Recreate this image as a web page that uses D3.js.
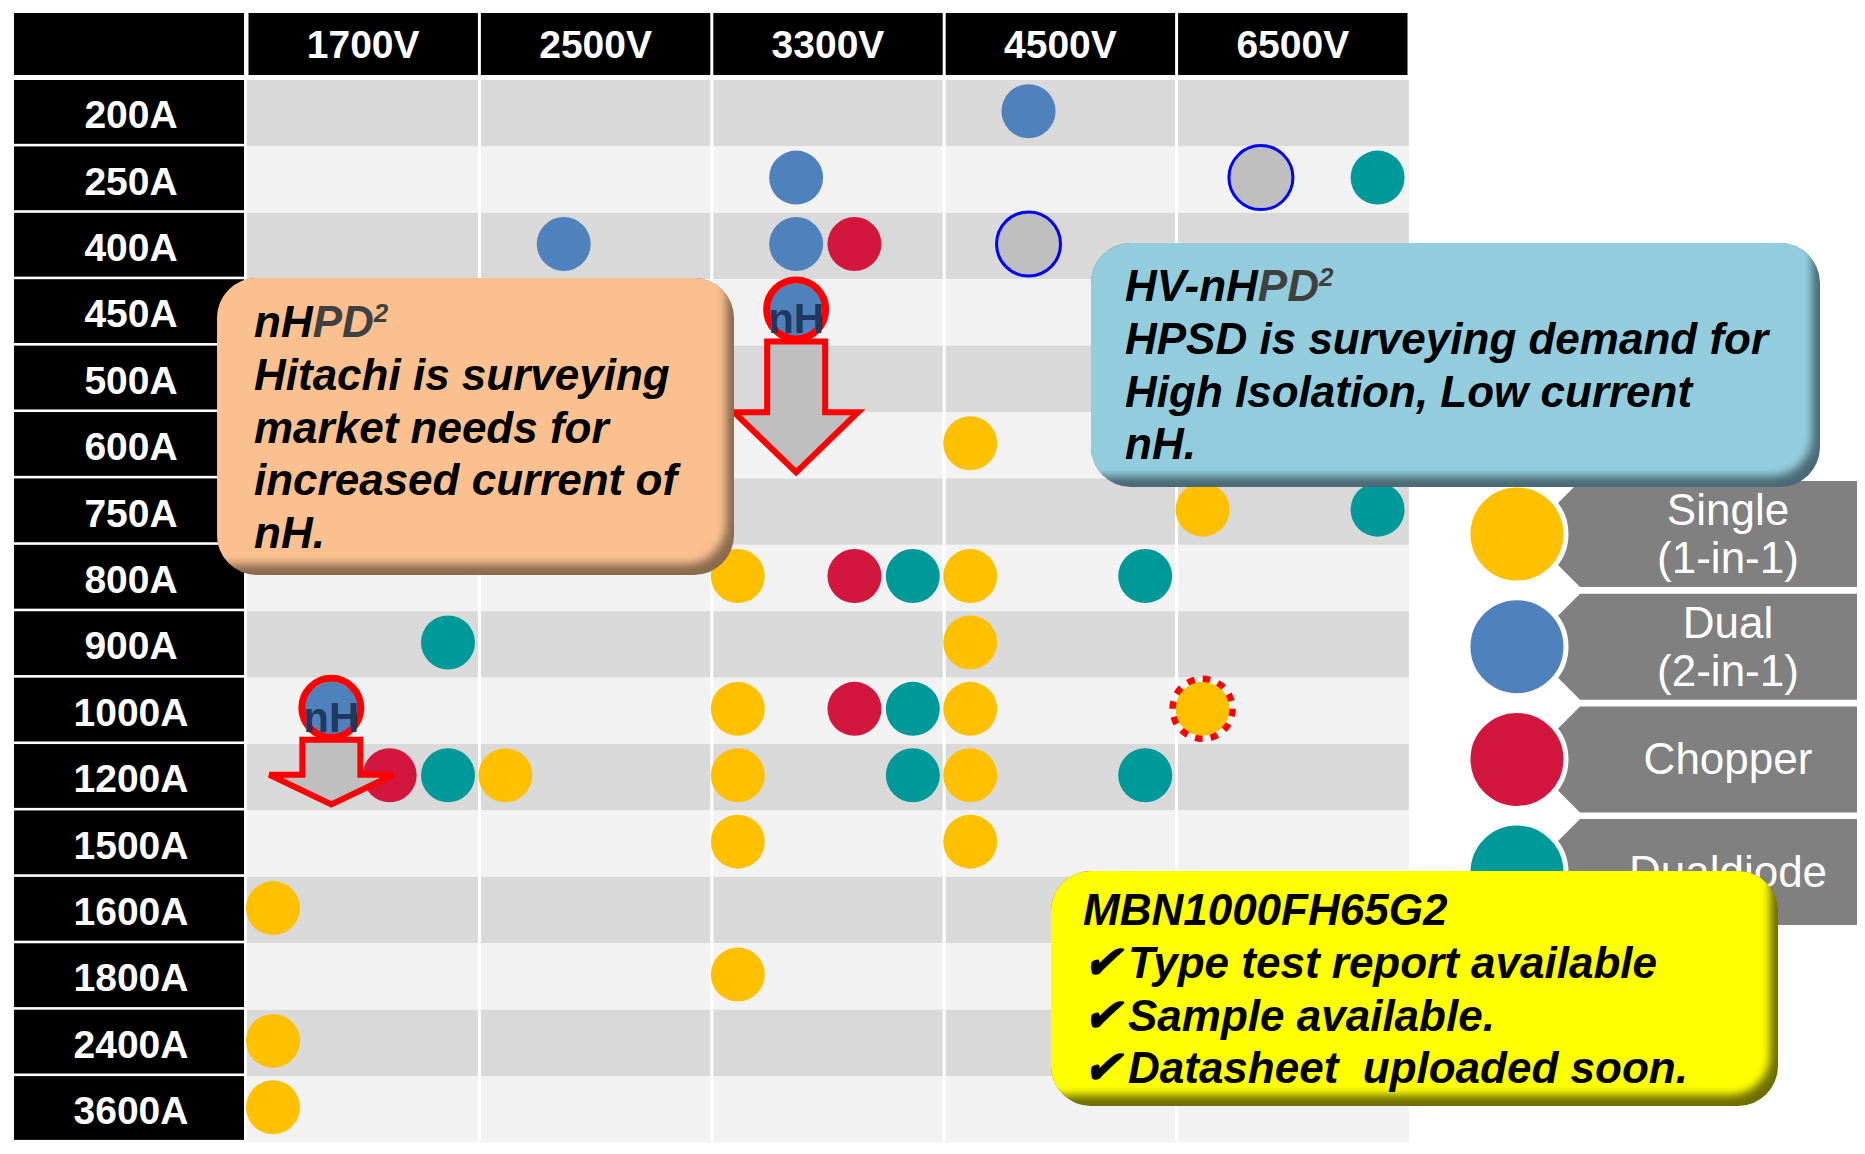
<!DOCTYPE html>
<html>
<head>
<meta charset="utf-8">
<script src="https://cdn.jsdelivr.net/npm/d3@7"></script>
<style>
html, body { margin: 0; padding: 0; background: #ffffff; }
svg { display: block; }
text { font-family: "Liberation Sans", Arial, Helvetica, sans-serif; }
</style>
</head>
<body>
<svg id="chart" width="1865" height="1154"></svg>
<script>
// ---------------- DATA ----------------
const voltages = ["1700V", "2500V", "3300V", "4500V", "6500V"];
const currents = ["200A", "250A", "400A", "450A", "500A", "600A", "750A", "800A",
                  "900A", "1000A", "1200A", "1500A", "1600A", "1800A", "2400A", "3600A"];
const types = ["single", "dual", "chopper", "dualdiode"];
const typeLabels = [["Single", "(1-in-1)"], ["Dual", "(2-in-1)"], ["Chopper"], ["Dualdiode"]];
const typeColors = ["#ffc000", "#4f81bd", "#d2163e", "#009999"];

// [voltage, current, type, status]  status: std | planned | nH | new
const products = [
  ["1700V", "900A", "dualdiode", "std"],
  ["1700V", "1000A", "dual", "nH"],
  ["1700V", "1200A", "chopper", "std"],
  ["1700V", "1200A", "dualdiode", "std"],
  ["1700V", "1600A", "single", "std"],
  ["1700V", "2400A", "single", "std"],
  ["1700V", "3600A", "single", "std"],
  ["2500V", "400A", "dual", "std"],
  ["2500V", "1200A", "single", "std"],
  ["3300V", "250A", "dual", "std"],
  ["3300V", "400A", "dual", "std"],
  ["3300V", "400A", "chopper", "std"],
  ["3300V", "450A", "dual", "nH"],
  ["3300V", "500A", "dual", "std"],
  ["3300V", "800A", "single", "std"],
  ["3300V", "800A", "chopper", "std"],
  ["3300V", "800A", "dualdiode", "std"],
  ["3300V", "1000A", "single", "std"],
  ["3300V", "1000A", "chopper", "std"],
  ["3300V", "1000A", "dualdiode", "std"],
  ["3300V", "1200A", "single", "std"],
  ["3300V", "1200A", "dualdiode", "std"],
  ["3300V", "1500A", "single", "std"],
  ["3300V", "1800A", "single", "std"],
  ["4500V", "200A", "dual", "std"],
  ["4500V", "400A", "dual", "planned"],
  ["4500V", "600A", "single", "std"],
  ["4500V", "800A", "single", "std"],
  ["4500V", "800A", "dualdiode", "std"],
  ["4500V", "900A", "single", "std"],
  ["4500V", "1000A", "single", "std"],
  ["4500V", "1200A", "single", "std"],
  ["4500V", "1200A", "dualdiode", "std"],
  ["4500V", "1500A", "single", "std"],
  ["6500V", "250A", "dual", "planned"],
  ["6500V", "250A", "dualdiode", "std"],
  ["6500V", "750A", "single", "std"],
  ["6500V", "750A", "dualdiode", "std"],
  ["6500V", "1000A", "single", "new"]
];

// development arrows: [voltage, type, from current, to current]
const arrows = [
  ["3300V", "dual", "450A", "600A"],
  ["1700V", "dual", "1000A", "1200A"]
];

const orangeTitle = ["nH", "PD", "2"];
const orangeLines = ["Hitachi is surveying", "market needs for", "increased current of", "nH."];
const blueTitle = ["HV-nH", "PD", "2"];
const blueLines = ["HPSD is surveying demand for", "High Isolation, Low current", "nH."];
const yellowLines = ["MBN1000FH65G2", "\u2714Type test report available", "\u2714Sample available.", "\u2714Datasheet  uploaded soon."];

// ---------------- LAYOUT ----------------
const svg = d3.select("#chart");
const defs = svg.append("defs");
defs.append("filter").attr("id", "soft")
  .attr("x", "-10%").attr("y", "-10%").attr("width", "120%").attr("height", "120%")
  .append("feGaussianBlur").attr("stdDeviation", 4);

const x = d3.scaleBand().domain(voltages).range([247, 1409]);
const y = d3.scaleBand().domain(currents).range([80, 1142.5]);
const sub = d3.scalePoint().domain(types).range([26, 201]);
const color = d3.scaleOrdinal().domain(types).range(typeColors);
const bw = x.bandwidth(), bh = y.bandwidth();
const px = (v, t) => x(v) + sub(t);
const py = c => y(c) + bh / 2;
const dy = -2; // dots sit slightly above row centre

svg.append("rect").attr("width", 1865).attr("height", 1154).attr("fill", "#ffffff");

// header
svg.append("rect").attr("x", 14).attr("y", 13).attr("width", 230).attr("height", 62).attr("fill", "#000");
const head = svg.append("g");
head.selectAll("rect").data(voltages).join("rect")
  .attr("x", d => x(d) + 1.5).attr("y", 13).attr("width", bw - 3).attr("height", 62).attr("fill", "#000");
head.selectAll("text").data(voltages).join("text")
  .attr("x", d => x(d) + bw / 2).attr("y", 58).attr("text-anchor", "middle")
  .attr("fill", "#fff").attr("font-weight", "bold").attr("font-size", 39).text(d => d);

// rows background
svg.append("g").selectAll("rect").data(currents).join("rect")
  .attr("x", x.range()[0]).attr("y", d => y(d)).attr("width", x.range()[1] - x.range()[0]).attr("height", bh)
  .attr("fill", (d, i) => i % 2 ? "#f2f2f2" : "#d9d9d9");
// column separators
svg.append("g").selectAll("rect").data(voltages.slice(1)).join("rect")
  .attr("x", d => x(d) - 1.5).attr("y", y.range()[0]).attr("width", 3).attr("height", y.range()[1] - y.range()[0])
  .attr("fill", "#fff");

// row labels
const rl = svg.append("g");
rl.selectAll("rect").data(currents).join("rect")
  .attr("x", 14).attr("y", d => y(d)).attr("width", 230).attr("height", bh - 2.6).attr("fill", "#000");
rl.selectAll("text").data(currents).join("text")
  .attr("x", 131).attr("y", d => py(d) + 15).attr("text-anchor", "middle")
  .attr("fill", "#fff").attr("font-weight", "bold").attr("font-size", 39).text(d => d);

// product dots
const prod = products.map(p => ({v: p[0], c: p[1], t: p[2], s: p[3]}));
const dots = svg.append("g");
dots.selectAll("circle.main").data(prod).join("circle").attr("class", "main")
  .attr("cx", d => px(d.v, d.t)).attr("cy", d => py(d.c) + dy)
  .attr("r", d => d.s === "planned" ? 32 : 27)
  .attr("fill", d => d.s === "planned" ? "#bfbfbf" : color(d.t))
  .attr("stroke", d => d.s === "planned" ? "#0000ff" : "none")
  .attr("stroke-width", d => d.s === "planned" ? 3 : 0);
dots.selectAll("circle.ring").data(prod.filter(d => d.s === "nH")).join("circle").attr("class", "ring")
  .attr("cx", d => px(d.v, d.t)).attr("cy", d => py(d.c) - 3).attr("r", 29.5)
  .attr("fill", "none").attr("stroke", "#ff0000").attr("stroke-width", 7);
dots.selectAll("circle.newring").data(prod.filter(d => d.s === "new")).join("circle").attr("class", "newring")
  .attr("cx", d => px(d.v, d.t)).attr("cy", d => py(d.c) + dy).attr("r", 30)
  .attr("fill", "none").attr("stroke", "#ff0000").attr("stroke-width", 6.5)
  .attr("stroke-dasharray", "7.5 8.2");

// arrows
const arrowPath = a => {
  const cx0 = px(a[0], a[1]);
  const top = py(a[2]) + 29;
  const tip = y(a[3]) + bh - 6;
  const L = tip - top, base = tip - 0.46 * L, sw = 29, hw = 62;
  return `M${cx0 - sw},${top}H${cx0 + sw}V${base}H${cx0 + hw}L${cx0},${tip}L${cx0 - hw},${base}H${cx0 - sw}Z`;
};
svg.append("g").selectAll("path").data(arrows).join("path")
  .attr("d", arrowPath).attr("fill", "#bfbfbf").attr("stroke", "#ff0000")
  .attr("stroke-width", 6).attr("stroke-linejoin", "miter");

// nH labels
svg.append("g").selectAll("text").data(prod.filter(d => d.s === "nH")).join("text")
  .attr("x", d => px(d.v, d.t)).attr("y", d => py(d.c) + 21).attr("text-anchor", "middle")
  .attr("fill", "#1f3a60").attr("font-weight", "bold").attr("font-size", 42).text("nH");

// legend
const lg = svg.append("g");
const legTop = 481, legStep = 112.7, legH = 106;
const lrows = lg.selectAll("g").data(types).join("g")
  .attr("transform", (d, i) => `translate(0,${legTop + i * legStep})`);
lrows.append("path")
  .attr("d", `M1580,0H1857V${legH}H1580L${1580 - legH / 2},${legH / 2}Z`).attr("fill", "#808080");
lrows.append("circle").attr("cx", 1517).attr("cy", legH / 2).attr("r", 49)
  .attr("fill", d => color(d)).attr("stroke", "#fff").attr("stroke-width", 5);
lrows.each(function(d, i) {
  const lines = typeLabels[i];
  const g = d3.select(this);
  lines.forEach((ln, j) => {
    const yy = lines.length === 1 ? legH / 2 + 15 : legH / 2 - 9 + j * 48;
    g.append("text").attr("x", 1728).attr("y", yy).attr("text-anchor", "middle")
      .attr("fill", "#fff").attr("font-size", 44).text(ln);
  });
});

// callouts
function callout(id, bx, by, bw2, bh2, fill, shade, tx, ty, title, lines) {
  const g = svg.append("g");
  defs.append("clipPath").attr("id", id).append("rect")
    .attr("x", bx).attr("y", by).attr("width", bw2).attr("height", bh2).attr("rx", 40).attr("ry", 40);
  const inner = g.append("g").attr("clip-path", `url(#${id})`);
  inner.append("rect").attr("x", bx).attr("y", by).attr("width", bw2).attr("height", bh2).attr("fill", shade);
  inner.append("rect").attr("x", bx - 40).attr("y", by - 40).attr("width", bw2 + 40 - 8).attr("height", bh2 + 40 - 11)
    .attr("rx", 40).attr("fill", fill).attr("filter", "url(#soft)");
  const lh = 52.8;
  let row = 0;
  if (title) {
    const t = g.append("text").attr("x", tx).attr("y", ty).attr("font-size", 44)
      .attr("font-weight", "bold").attr("font-style", "italic").attr("fill", "#000");
    t.append("tspan").text(title[0]);
    t.append("tspan").attr("fill", "#404040").text(title[1]);
    t.append("tspan").attr("fill", "#404040").attr("font-size", 26).attr("dy", -15).text(title[2]);
    row = 1;
  }
  lines.forEach((ln, j) => {
    const t = g.append("text").attr("x", tx).attr("y", ty + (row + j) * lh)
      .attr("font-size", 44).attr("font-weight", "bold").attr("font-style", "italic")
      .attr("fill", "#000").attr("xml:space", "preserve").style("white-space", "pre");
    if (ln.startsWith("\u2714")) {
      t.append("tspan").attr("font-size", 46).text("\u2714");
      t.append("tspan").attr("dx", 6).text(ln.slice(1));
    } else {
      t.text(ln);
    }
  });
}
callout("clipO", 217, 278, 517, 297, "#fac090", "#8b6a4e", 254, 337, orangeTitle, orangeLines);
callout("clipB", 1091, 243, 729, 244, "#93cddd", "#4a6b75", 1125, 301, blueTitle, blueLines);
callout("clipY", 1051, 871, 727, 235, "#ffff00", "#6e6e00", 1083, 925, null, yellowLines);
</script>
</body>
</html>
